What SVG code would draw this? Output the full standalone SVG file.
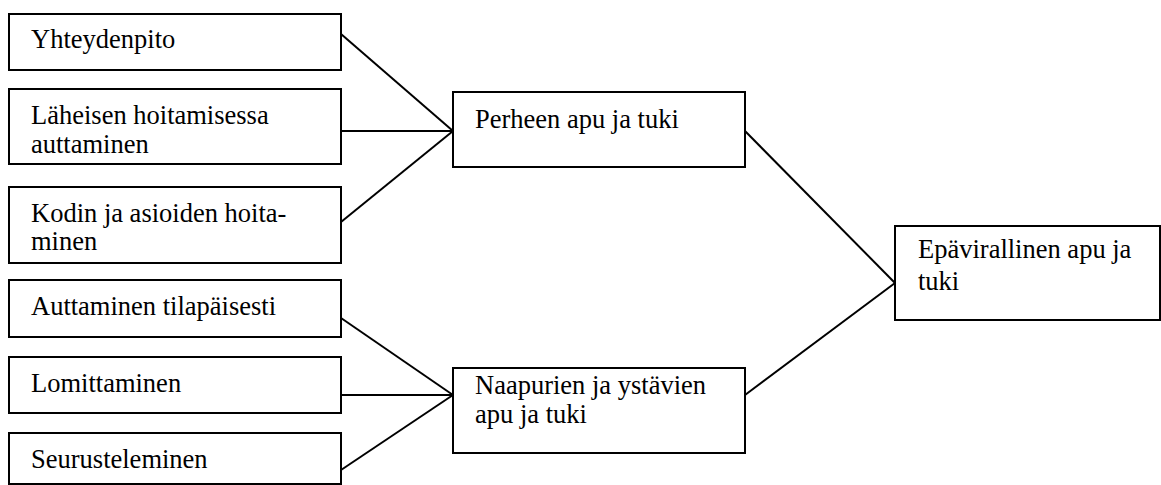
<svg xmlns="http://www.w3.org/2000/svg" width="1161" height="485" viewBox="0 0 1161 485">
<style>
rect.box{fill:#fff;stroke:#000;stroke-width:2}
text{font-family:'Liberation Serif','Times New Roman','DejaVu Serif',serif;font-size:26.5px;fill:#000}
.conn line{stroke:#000;stroke-width:2}
</style>
<rect width="1161" height="485" fill="#fff"/>
<g class="conn" id="connectors">
<line x1="341" y1="34" x2="453" y2="131"/>
<line x1="341" y1="131" x2="453" y2="131"/>
<line x1="341" y1="222" x2="453" y2="131"/>
<line x1="341" y1="318" x2="453" y2="395"/>
<line x1="341" y1="395" x2="453" y2="395"/>
<line x1="341" y1="470" x2="453" y2="395"/>
<line x1="745" y1="131" x2="895" y2="283"/>
<line x1="745" y1="395" x2="895" y2="283"/>
</g>
<g id="n1"><rect class="box" x="9" y="14" width="332" height="56"/><text x="31" y="48" font-family="Liberation Serif, serif">Yhteydenpito</text></g>
<g id="n2"><rect class="box" x="9" y="89" width="332" height="75"/><text x="31" y="124">Läheisen hoitamisessa</text><text x="31" y="153">auttaminen</text></g>
<g id="n3"><rect class="box" x="9" y="187" width="332" height="76"/><text x="31" y="222">Kodin ja asioiden hoita-</text><text x="31" y="250">minen</text></g>
<g id="n4"><rect class="box" x="9" y="280" width="332" height="57"/><text x="31" y="315">Auttaminen tilapäisesti</text></g>
<g id="n5"><rect class="box" x="9" y="357" width="332" height="56"/><text x="31" y="392">Lomittaminen</text></g>
<g id="n6"><rect class="box" x="9" y="433" width="332" height="51"/><text x="31" y="468">Seurusteleminen</text></g>
<g id="n7"><rect class="box" x="453" y="92" width="292" height="75"/><text x="475" y="128">Perheen apu ja tuki</text></g>
<g id="n8"><rect class="box" x="453" y="368" width="292" height="85"/><text x="475" y="394">Naapurien ja ystävien</text><text x="475" y="423">apu ja tuki</text></g>
<g id="n9"><rect class="box" x="895" y="226" width="265" height="94"/><text x="918" y="258">Epävirallinen apu ja</text><text x="918" y="290">tuki</text></g>
</svg>
